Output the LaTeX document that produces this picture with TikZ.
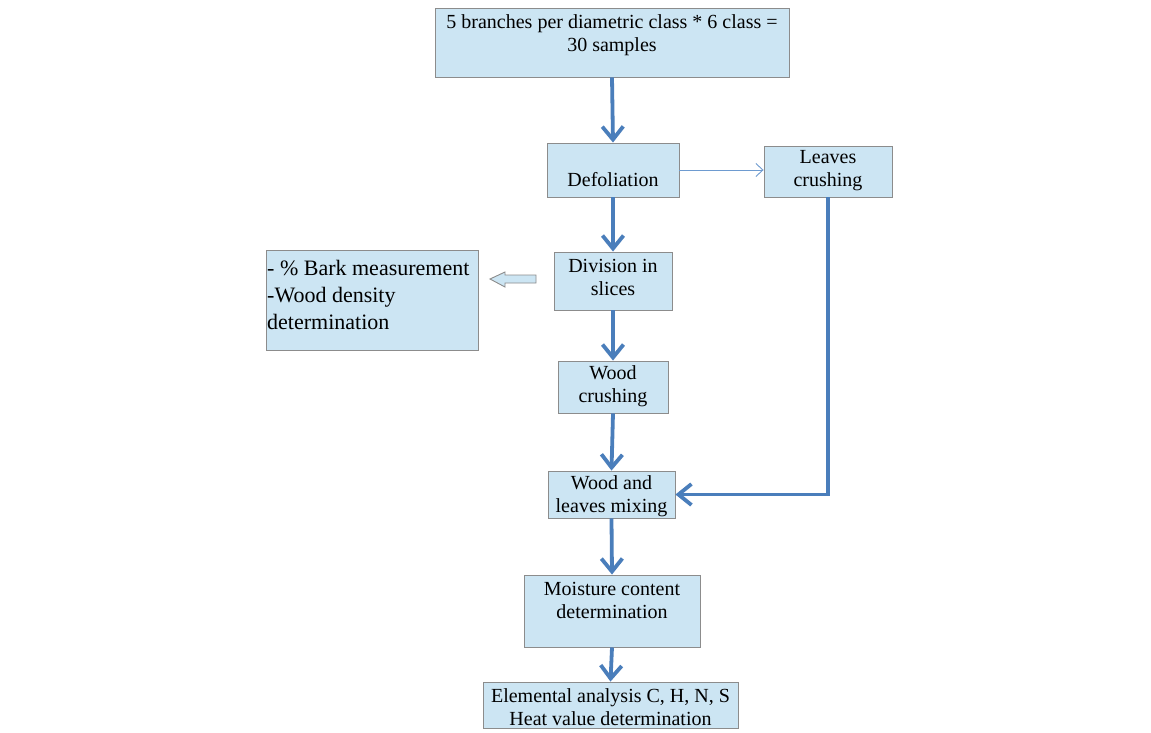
\documentclass[tikz,border=0pt]{standalone}
\usepackage{fontspec}
\setmainfont{Liberation Serif}
\usetikzlibrary{arrows.meta}
\definecolor{boxfill}{HTML}{CCE5F3}
\definecolor{boxline}{HTML}{8C8C8C}
\definecolor{flow}{HTML}{4A7EBB}
\definecolor{thinflow}{HTML}{6E9BD0}
\begin{document}
\begin{tikzpicture}[x=1pt,y=-1pt,
  box/.style={draw=boxline, fill=boxfill, line width=0.9pt, inner sep=0pt, rectangle},
  txt/.style={inner sep=0pt, align=center, font=\fontsize{20}{23}\selectfont},
  ltxt/.style={inner sep=0pt, align=left, font=\fontsize{22}{27}\selectfont, anchor=west},
  flowarrow/.style={draw=flow, line width=3.8pt, -{Straight Barb[length=13pt,width=21pt]}},
  thinarrow/.style={draw=thinflow, line width=0.9pt, -{Straight Barb[length=7pt,width=13pt]}},
  hollow/.style={draw=boxline, fill=boxfill, line width=0.9pt, line join=miter}]
\useasboundingbox (0,0) rectangle (1151,732);
\fill[white] (0,0) rectangle (1151,732);

% boxes
\node[box, minimum width=354pt, minimum height=69pt] (top) at (612,42.5) {};
\node[txt] (toptxt) at (612,35) {5 branches per diametric class * 6 class =\\30 samples};

\node[box, minimum width=132pt, minimum height=54pt] (def) at (613,170) {};
\node[txt] (deftxt) at (613,180) {Defoliation};

\node[box, minimum width=128pt, minimum height=51pt] (leaves) at (828,171.5) {};
\node[txt] (leavestxt) at (828,170.5) {Leaves\\crushing};

\node[box, minimum width=118pt, minimum height=58pt] (div) at (613,281) {};
\node[txt] (divtxt) at (613,277.5) {Division in\\slices};

\node[box, minimum width=212pt, minimum height=100pt] (bark) at (372,300) {};
\node[ltxt] (barktxt) at (267,295) {- \% Bark measurement\\-Wood density\\determination};

\node[box, minimum width=110pt, minimum height=52pt] (wood) at (613,387) {};
\node[txt] (woodtxt) at (613,386.5) {Wood\\crushing};

\node[box, minimum width=127pt, minimum height=47pt] (mix) at (611.5,494.5) {};
\node[txt] (mixtxt) at (611.5,496.5) {Wood and\\leaves mixing};

\node[box, minimum width=176pt, minimum height=72pt] (moist) at (612,611) {};
\node[txt] (moisttxt) at (612,600.5) {Moisture content\\determination};

\node[box, minimum width=255pt, minimum height=46pt] (elem) at (610.5,705) {};
\node[txt] (elemtxt) at (610.5,707.5) {Elemental analysis C, H, N, S\\Heat value determination};

% connectors
\draw[flowarrow] (top.south) -- (def.north);
\draw[flowarrow] (def.south) -- (div.north);
\draw[thinarrow] (def.east) -- (leaves.west |- def.east);
\draw[flowarrow] (div.south) -- (wood.north);
\draw[flowarrow] (wood.south) -- (mix.north);
\draw[flowarrow] (leaves.south) |- (mix.east);
\draw[flowarrow] (mix.south) -- (moist.north);
\draw[flowarrow] (moist.south) -- (elem.north);

% hollow block arrow from division to bark box
\draw[hollow] (536,275) -- (505,275) -- (505,272) -- (490,279) -- (505,287) -- (505,283) -- (536,283) -- cycle;
\end{tikzpicture}
\end{document}
